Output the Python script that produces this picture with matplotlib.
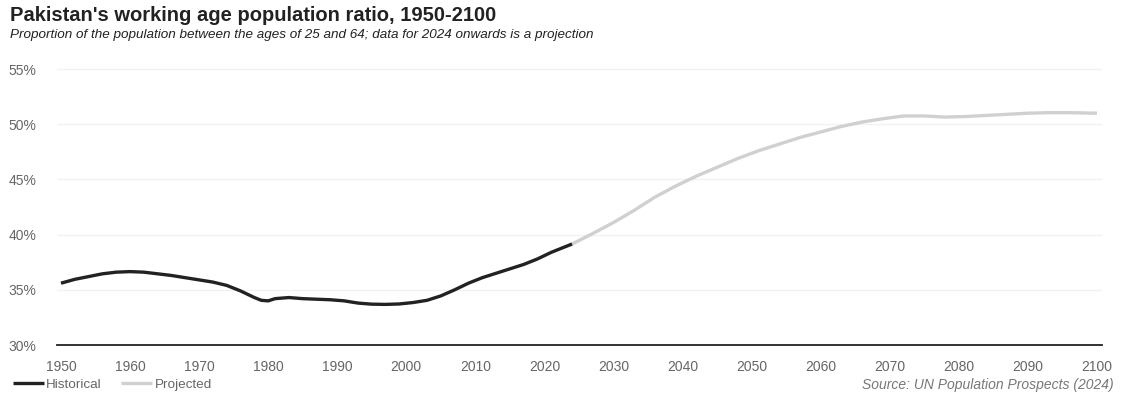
import matplotlib
matplotlib.use("Agg")
import matplotlib.pyplot as plt
from matplotlib.ticker import FuncFormatter

plt.rcParams['font.family'] = ['Liberation Sans', 'DejaVu Sans']

hist_years = [1950, 1952, 1954, 1956, 1958, 1960, 1962, 1964, 1966, 1968, 1970,
              1972, 1974, 1976, 1978, 1979, 1980, 1981, 1983, 1985, 1987, 1989,
              1991, 1993, 1995, 1997, 1999, 2001, 2003, 2005, 2007, 2009, 2011,
              2013, 2015, 2017, 2019, 2021, 2023, 2024]
hist_vals = [35.6, 35.95, 36.2, 36.45, 36.6, 36.65, 36.6, 36.45, 36.3, 36.1, 35.9,
             35.7, 35.4, 34.9, 34.3, 34.05, 34.0, 34.2, 34.3, 34.2, 34.15, 34.1,
             34.0, 33.8, 33.7, 33.68, 33.72, 33.85, 34.05, 34.45, 35.0, 35.6, 36.1,
             36.5, 36.9, 37.3, 37.8, 38.4, 38.9, 39.15]

proj_years = [2024, 2027, 2030, 2033, 2036, 2039, 2042, 2045, 2048, 2051, 2054,
              2057, 2060, 2063, 2066, 2069, 2072, 2075, 2078, 2081, 2084, 2087,
              2090, 2093, 2096, 2100]
proj_vals = [39.15, 40.1, 41.1, 42.2, 43.4, 44.4, 45.3, 46.1, 46.9, 47.6, 48.2,
             48.8, 49.3, 49.8, 50.2, 50.5, 50.75, 50.75, 50.65, 50.7, 50.8, 50.9,
             51.0, 51.05, 51.05, 51.0]

y_ticks = [30, 35, 40, 45, 50, 55]
x_ticks = list(range(1950, 2101, 10))

fig = plt.figure(figsize=(11.28, 3.99), dpi=100)
ax = fig.add_axes([0.0505, 0.1353, 0.9264, 0.7193])

ax.plot(hist_years, hist_vals, color='#222222', lw=2.4, solid_capstyle='butt',
        solid_joinstyle='round', label='Historical', zorder=3)
ax.plot(proj_years, proj_vals, color='#d0d0d0', lw=2.4, solid_capstyle='butt',
        solid_joinstyle='round', label='Projected', zorder=2)

ax.set_xlim(1949.42, 2100.72)
ax.set_ylim(30, 56)
ax.set_yticks(y_ticks)
ax.set_xticks(x_ticks)
ax.yaxis.set_major_formatter(FuncFormatter(lambda v, p: f"{int(v)}%"))
ax.grid(axis='y', color='#f2f2f2', lw=1)
ax.set_axisbelow(True)
for s in ['top', 'right', 'left']:
    ax.spines[s].set_visible(False)
ax.spines['bottom'].set_color('#222222')
ax.spines['bottom'].set_linewidth(1.3)
ax.tick_params(axis='both', length=0, labelsize=10, labelcolor='#666666')
ax.tick_params(axis='y', pad=15)
ax.tick_params(axis='x', pad=11)

fig.text(0.009, 0.96, "Pakistan's working age population ratio, 1950-2100",
         fontsize=14.5, fontweight='bold', color='#222222', va='center', ha='left')
fig.text(0.009, 0.913, "Proportion of the population between the ages of 25 and 64; data for 2024 onwards is a projection",
         fontsize=9.7, style='italic', color='#222222', va='center', ha='left')
fig.text(0.987, 0.036, "Source: UN Population Prospects (2024)", fontsize=10,
         style='italic', color='#777777', ha='right', va='center')

fig.legend(loc='lower left', bbox_to_anchor=(0.004, 0.0), ncol=2, frameon=False,
           fontsize=9.7, handlelength=2.3, handletextpad=0.2, columnspacing=1.4,
           labelcolor='#666666', borderaxespad=0.2)

fig.savefig('out.png', dpi=100, facecolor='white')
